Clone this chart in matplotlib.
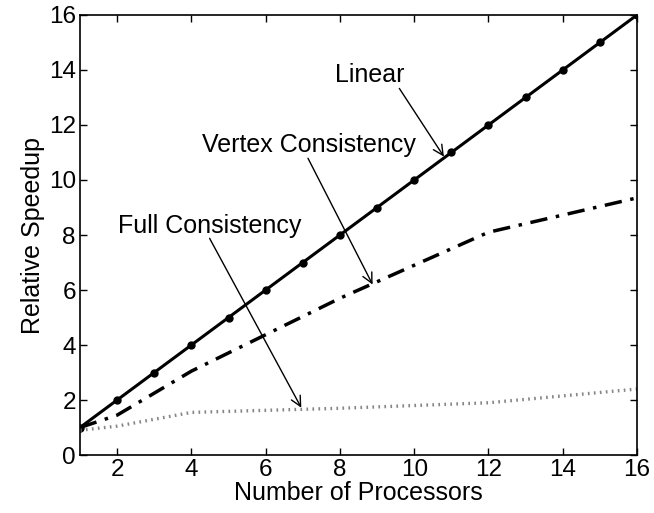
import numpy as np
import matplotlib.pyplot as plt

plt.rcParams['font.family'] = ['Liberation Sans', 'DejaVu Sans']

# data
procs_linear = np.arange(1, 17)
speedup_linear = np.arange(1, 17)

procs = [1, 2, 4, 8, 12, 16]
vertex = [1.0, 1.45, 3.05, 5.7, 8.1, 9.35]
full = [0.9, 1.05, 1.55, 1.7, 1.9, 2.4]

fig = plt.figure(figsize=(6.54, 5.13), dpi=100)
ax = fig.add_axes([0.1223, 0.113, 0.8517, 0.8578])

ax.plot(procs_linear, speedup_linear, color='black', lw=2.2, marker='o', markersize=5)
ax.plot(procs, vertex, color='black', lw=2.5, linestyle=(0, (5, 2.5, 1, 2.5)))
ax.plot(procs, full, color='#858585', lw=2.4, linestyle=(0, (0.5, 1.3)))

ax.set_xlim(1, 16)
ax.set_ylim(0, 16)
ax.set_xticks(np.arange(2, 17, 2))
ax.set_yticks(np.arange(0, 17, 2))
ax.tick_params(direction='in', top=True, right=True, labelsize=17.5, length=5, width=1, pad=3)
for s in ax.spines.values():
    s.set_linewidth(1.2)

ax.set_xlabel('Number of Processors', fontsize=18, labelpad=0)
ax.set_ylabel('Relative Speedup', fontsize=18, labelpad=3)

arrow = dict(arrowstyle='->', color='black', lw=1.0, mutation_scale=18, shrinkA=0, shrinkB=0)
ax.text(8.8, 13.8, 'Linear', fontsize=18, ha='center', va='center')
ax.annotate('', xy=(10.8, 10.85), xytext=(9.6, 13.33), arrowprops=arrow)
ax.text(7.16, 11.27, 'Vertex Consistency', fontsize=18, ha='center', va='center')
ax.annotate('', xy=(8.88, 6.2), xytext=(7.14, 10.79), arrowprops=arrow)
ax.text(4.49, 8.33, 'Full Consistency', fontsize=18, ha='center', va='center')
ax.annotate('', xy=(6.96, 1.72), xytext=(4.49, 7.88), arrowprops=arrow)

fig.savefig('out.png', dpi=100)
